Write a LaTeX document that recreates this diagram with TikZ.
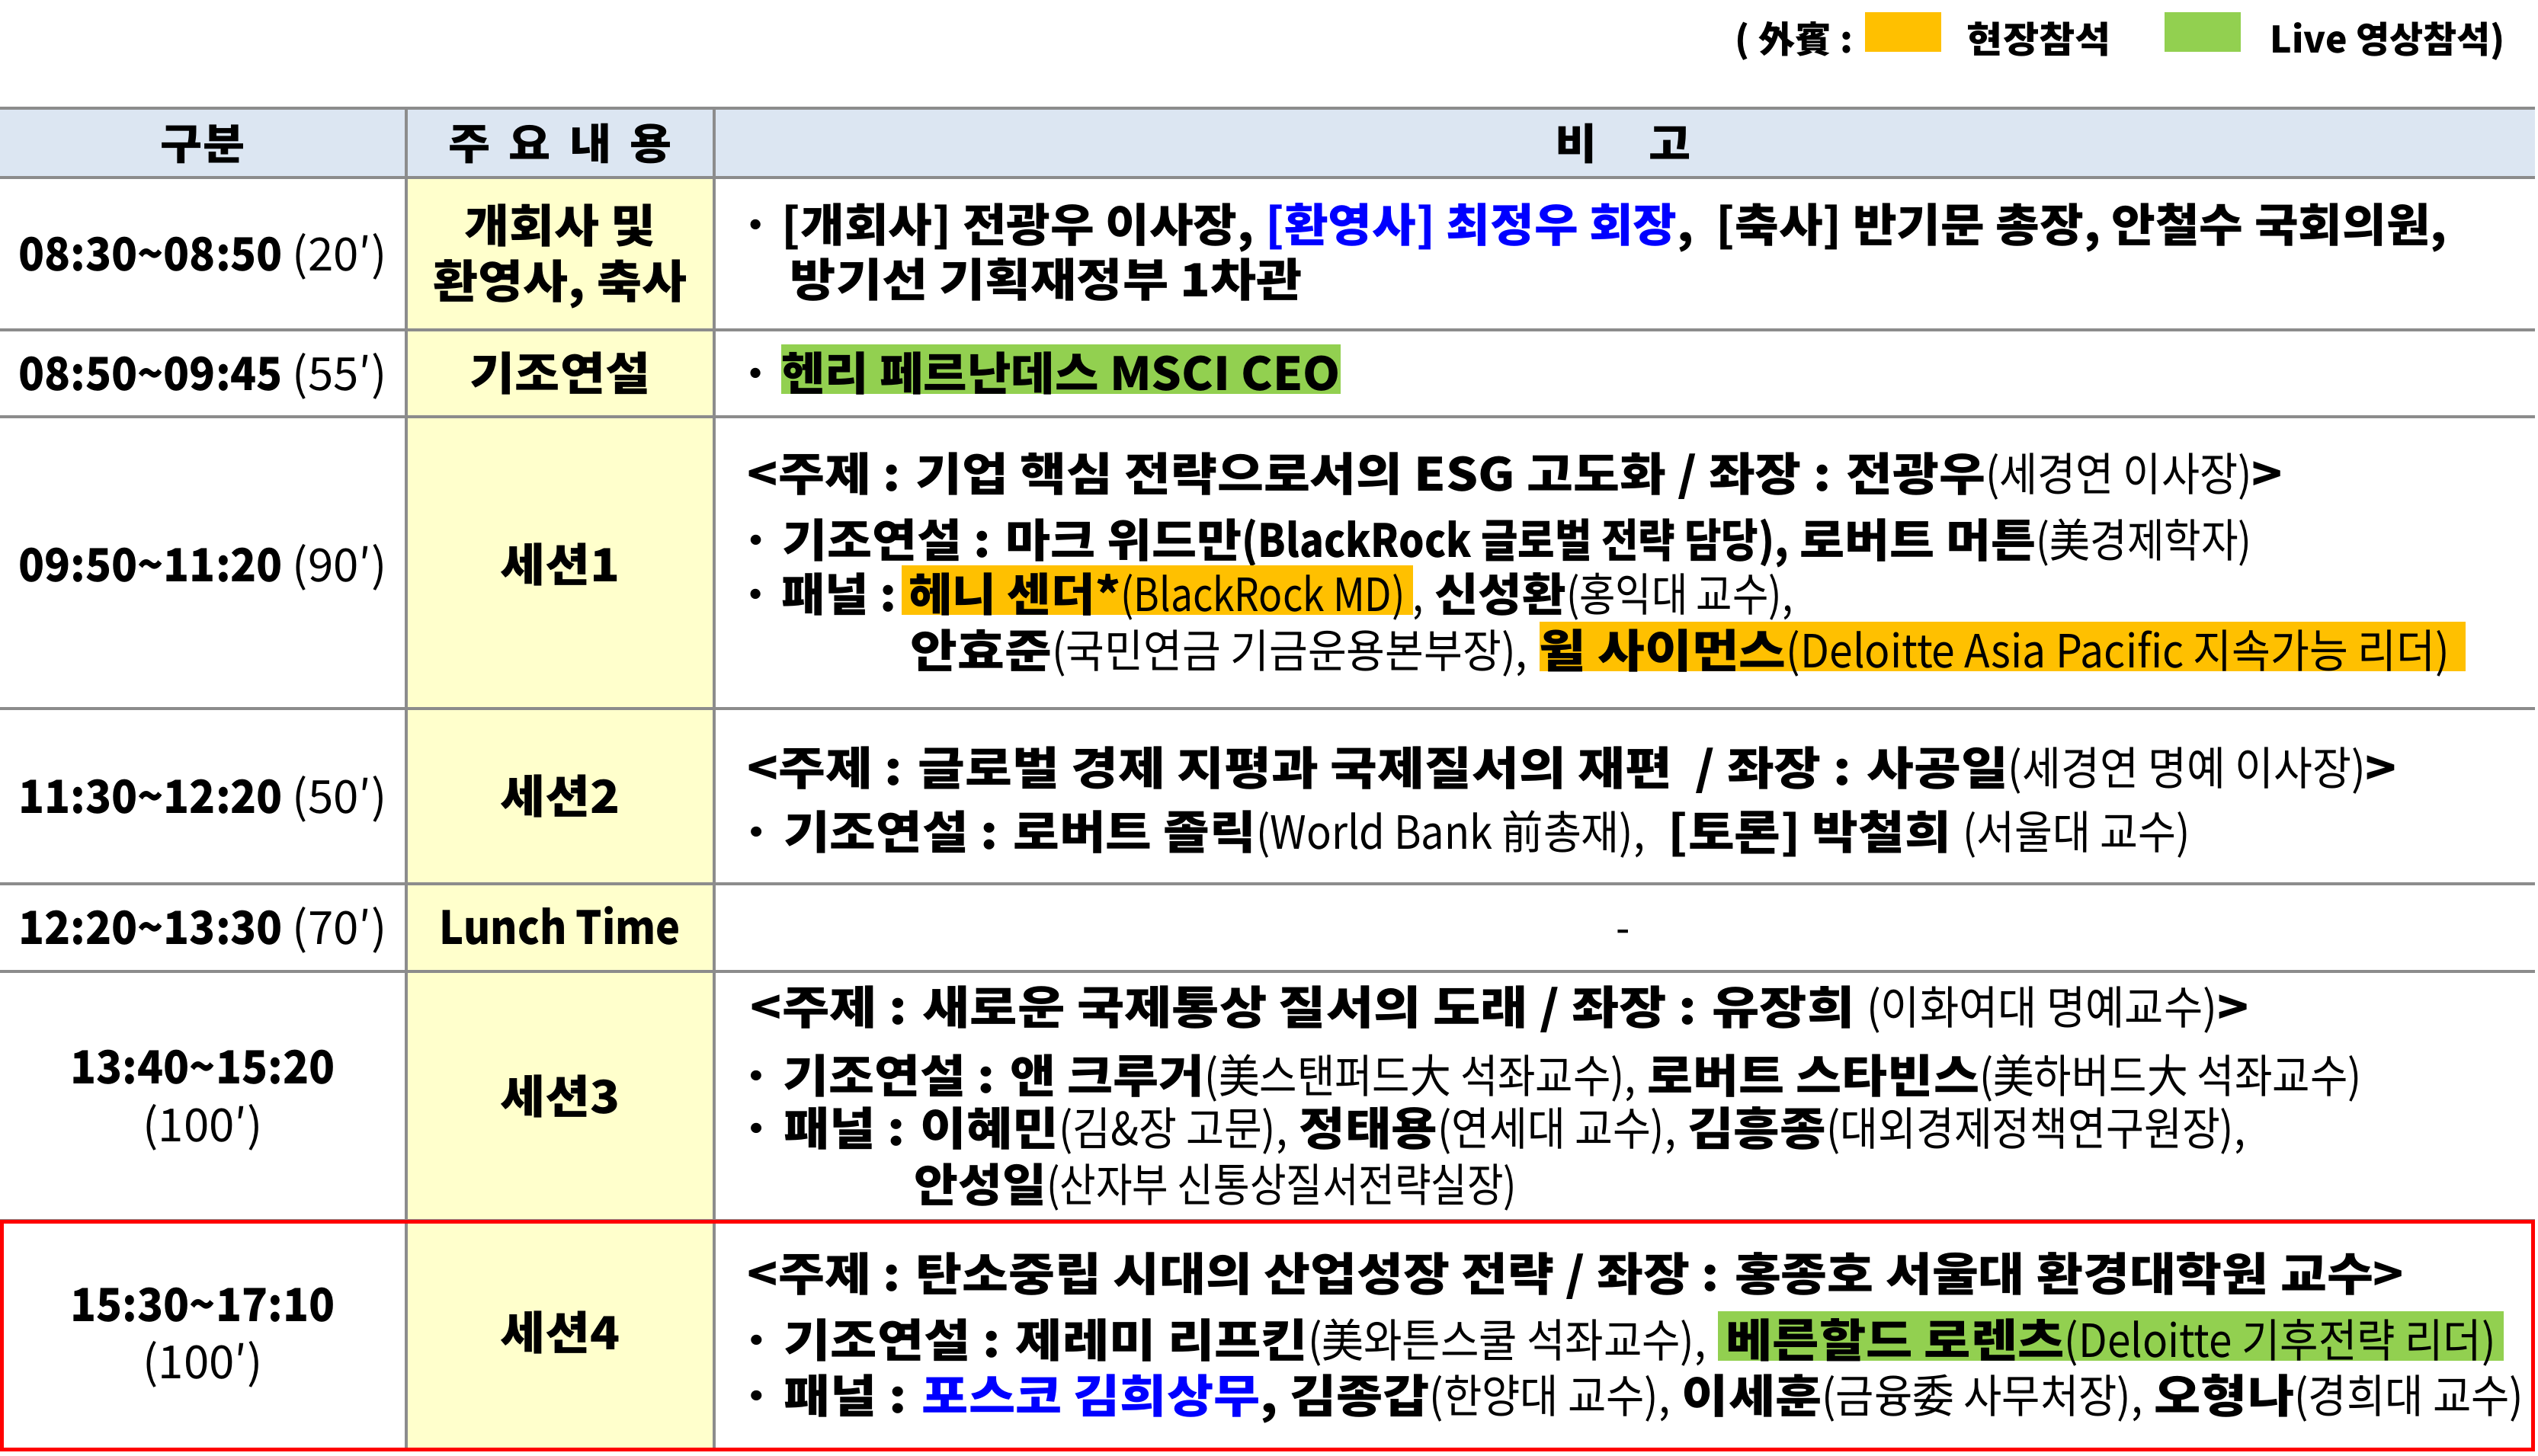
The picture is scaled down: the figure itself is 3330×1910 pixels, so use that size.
\documentclass[tikz,border=0pt]{standalone}
\usepackage{fontspec}
\setmainfont{Noto Sans CJK KR}
\newfontfamily\Bd{Noto Sans CJK KR}[FakeStretch=1.07]
\newfontfamily\Rg{Noto Sans CJK KR}[FakeStretch=0.88]
\newfontfamily\Nm{Noto Sans CJK KR}[FakeStretch=0.935]
\definecolor{hdr}{HTML}{DCE6F2}
\definecolor{ylw}{HTML}{FFFFCC}
\definecolor{org}{HTML}{FFC000}
\definecolor{grn}{HTML}{92D050}
\definecolor{gridc}{HTML}{8C8C8C}
\definecolor{blu}{HTML}{0000FF}
\definecolor{redc}{HTML}{FF0000}
\newcommand\fsM{\fontsize{15pt}{18pt}\selectfont}
\newcommand\fsH{\fontsize{14pt}{17pt}\selectfont}
\newcommand\fsL{\fontsize{12pt}{14pt}\selectfont}
\newcommand\rg[1]{{\Rg\mdseries #1}}
\newcommand\rb[1]{{\Rg\bfseries #1}}
\newcommand\rgn[1]{{\normalfont #1}}
\newcommand\sx[2]{\scalebox{#1}[1]{#2}}
\newcommand\hlb[3][2.5pt]{{\setlength{\fboxsep}{0pt}\colorbox{#2}{\rule[-1.2pt]{0pt}{16.2pt}\hspace{#1}\smash{#3}\hspace{#1}}}}
\tikzset{
  txt/.style={anchor=base west, inner sep=0pt, font=\fsM\Bd\bfseries},
  ctr/.style={anchor=base, inner sep=0pt, font=\fsM\Bd\bfseries},
  tim/.style={anchor=base, inner sep=0pt, font=\fsM\Nm\bfseries},
  hd/.style={anchor=base, inner sep=0pt, font=\fsH\Bd\bfseries},
  lg/.style={anchor=base west, inner sep=0pt, font=\fsL\bfseries},
  grid/.style={draw=gridc, line width=1pt},
}
\begin{document}
\begin{tikzpicture}[x=0.25pt,y=-0.25pt]
\useasboundingbox (0,0) rectangle (3330,1910);
% fills
\fill[hdr] (0,142) rectangle (3326,233);
\fill[ylw] (533,233) rectangle (937,1902);
% grid
\foreach \yy in {142,233,433,547,930,1160,1275,1602,1902}
  \draw[grid] (0,\yy) -- (3326,\yy);
\foreach \xx in {533,937}
  \draw[grid] (\xx,142) -- (\xx,1902);
% legend
\node[lg] (lg1) at (2276,69) {( 外賓 :};
\fill[org] (2447,16) rectangle (2547,68);
\node[lg] (lg2) at (2580,69) {\Bd 현장참석};
\fill[grn] (2840,16) rectangle (2940,68);
\node[lg] (lg3) at (2978,69) {Live 영상참석)};
% header
\node[hd] (h1) at (266,209) {구분};
\node[hd] (h2) at (735,209) {주\hspace{6pt}요\hspace{6pt}내\hspace{6pt}용};
\node[hd] (h3) at (2130,209) {비\hspace{17pt}고};
% row 1
\node[tim] (t1) at (266,355) {08:30\textasciitilde08:50 \rgn{(20′)}};
\node[ctr] (s1a) at (735,318) {개회사 및};
\node[ctr] (s1b) at (735,391) {환영사, 축사};
\node[txt] (c1a) at (972,317) {\sx{0.977}{· [개회사] 전광우 이사장, \textcolor{blu}{[환영사] 최정우 회장},\ \ [축사] 반기문 총장, 안철수 국회의원,}};
\node[txt] (c1b) at (1036,389) {\sx{1.019}{방기선 기획재정부 1차관}};
% row 2
\node[tim] (t2) at (266,512) {08:50\textasciitilde09:45 \rgn{(55′)}};
\node[ctr] (s2) at (735,512) {기조연설};
\node[txt] (c2a) at (972,512) {\sx{0.973}{· \hlb[0pt]{grn}{헨리 페르난데스 MSCI CEO}}};
% row 3
\node[tim] (t3) at (266,763) {09:50\textasciitilde11:20 \rgn{(90′)}};
\node[ctr] (s3) at (735,763) {세션1};
\node[txt] (c3a) at (980,644) {\sx{1.031}{<주제 : 기업 핵심 전략으로서의 ESG 고도화 / 좌장 : 전광우\rg{(세경연 이사장)}>}};
\node[txt] (c3b) at (972,731) {· 기조연설 : 마크 위드만\rb{(BlackRock 글로벌 전략 담당),} 로버트 머튼\rg{(美경제학자)}};
\node[txt] (c3c) at (972,802) {\sx{0.975}{· 패널 :\hspace{1.5pt}\hlb{org}{헤니 센더*\rg{(BlackRock MD)}}\rg{,} 신성환\rg{(홍익대 교수),}}};
\node[txt] (c3d) at (1194,876) {\sx{1.046}{안효준\rg{(국민연금 기금운용본부장),} \hlb[0pt]{org}{윌 사이먼스\rg{(Deloitte Asia Pacific 지속가능 리더)}\hspace{5pt}}}};
% row 4
\node[tim] (t4) at (266,1067) {11:30\textasciitilde12:20 \rgn{(50′)}};
\node[ctr] (s4) at (735,1067) {세션2};
\node[txt] (c4a) at (980,1030) {\sx{1.047}{<주제 : 글로벌 경제 지평과 국제질서의 재편\ \ / 좌장 : 사공일\rg{(세경연 명예 이사장)}>}};
\node[txt] (c4b) at (972,1114) {\sx{1.028}{· 기조연설 : 로버트 졸릭\rg{(World Bank 前총재),}\ \ [토론] 박철희 \rg{(서울대 교수)}}};
% row 5
\node[tim] (t5) at (266,1239) {12:20\textasciitilde13:30 \rgn{(70′)}};
\node[ctr] (s5) at (735,1239) {\sx{0.84}{Lunch Time}};
\node[ctr] (c5) at (2130,1239) {\rg{-}};
% row 6
\node[tim] (t6a) at (266,1422) {13:40\textasciitilde15:20};
\node[tim] (t6b) at (266,1498) {\rgn{(100′)}};
\node[ctr] (s6) at (735,1461) {세션3};
\node[txt] (c6a) at (984,1344) {\sx{1.055}{<주제 : 새로운 국제통상 질서의 도래 / 좌장 : 유장희 \rg{(이화여대 명예교수)}>}};
\node[txt] (c6b) at (972,1434) {\sx{1.017}{· 기조연설 : 앤 크루거\rg{(美스탠퍼드大 석좌교수),} 로버트 스타빈스\rg{(美하버드大 석좌교수)}}};
\node[txt] (c6c) at (972,1503) {\sx{1.026}{· 패널 : 이혜민\rg{(김\&장 고문),} 정태용\rg{(연세대 교수),} 김흥종\rg{(대외경제정책연구원장),}}};
\node[txt] (c6d) at (1199,1577) {\sx{0.979}{안성일\rg{(산자부 신통상질서전략실장)}}};
% row 7
\node[tim] (t7a) at (266,1734) {15:30\textasciitilde17:10};
\node[tim] (t7b) at (266,1809) {\rgn{(100′)}};
\node[ctr] (s7) at (735,1771) {세션4};
\node[txt] (c7a) at (980,1694) {\sx{1.032}{<주제 : 탄소중립 시대의 산업성장 전략 / 좌장 : 홍종호 서울대 환경대학원 교수>}};
\node[txt] (c7b) at (972,1781) {\sx{1.038}{· 기조연설 : 제레미 리프킨\rg{(美와튼스쿨 석좌교수),} \hlb{grn}{베른할드 로렌츠\rg{(Deloitte 기후전략 리더)}}}};
\node[txt] (c7c) at (972,1854) {\sx{1.036}{· 패널 : \textcolor{blu}{포스코 김희상무}, 김종갑\rg{(한양대 교수),} 이세훈\rg{(금융委 사무처장),} 오형나\rg{(경희대 교수)}}};
% red frame
\draw[redc, line width=1.25pt] (2.5,1603) rectangle (3323,1902);
\end{tikzpicture}
\end{document}
